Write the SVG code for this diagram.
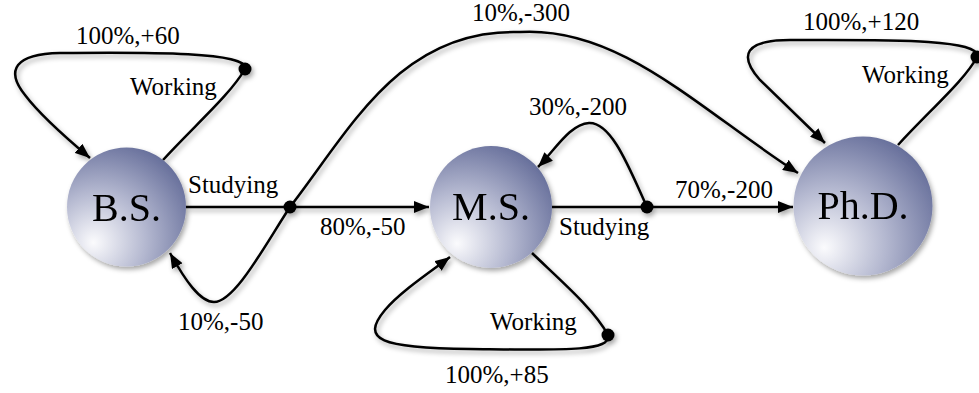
<svg xmlns="http://www.w3.org/2000/svg" width="979" height="393" viewBox="0 0 979 393">
<style>
.edge{fill:none;stroke:#000;stroke-width:2.5;}
.lbl{font-family:"Liberation Serif",serif;font-size:25px;fill:#000;}
.nlbl{font-family:"Liberation Serif",serif;font-size:40px;fill:#000;text-anchor:middle;}
.node{fill:url(#ball);}
.dot{fill:#000;}
</style>
<defs>
<radialGradient id="ball" cx="0.3" cy="0.75" r="0.9" fx="0.22" fy="0.8">
<stop offset="0" stop-color="#fbfbfd"/>
<stop offset="0.45" stop-color="#b4b8d0"/>
<stop offset="1" stop-color="#5a6392"/>
</radialGradient>
<filter id="sh" x="-20%" y="-20%" width="140%" height="140%">
<feDropShadow dx="2" dy="3" stdDeviation="2.5" flood-color="#000" flood-opacity="0.35"/>
</filter>
<marker id="arr" markerUnits="userSpaceOnUse" markerWidth="16" markerHeight="12" refX="15" refY="6" orient="auto">
<path d="M0,0 L15,6 L0,12 z" fill="#000"/>
</marker>
</defs>
<g id="connectors" filter="url(#sh)">
<path class="edge" d="M163,160 C195,125 230,95 245,69"/>
<path class="edge" marker-end="url(#arr)" d="M245,69 C250,52 150,52 60,53 C15,54 5,70 25,95 C40,115 65,137 90,158"/>
<path class="edge" d="M186,207 L290,207"/>
<path class="edge" marker-end="url(#arr)" d="M290,207 L429,207"/>
<path class="edge" marker-end="url(#arr)" d="M290,207 C265,245 235,302 214,302 C200,302 185,280 170,253"/>
<path class="edge" marker-end="url(#arr)" d="M290,207 C350,130 400,28 520,32 C620,26 700,110 798,173"/>
<path class="edge" d="M552,207 L647,207"/>
<path class="edge" marker-end="url(#arr)" d="M647,207 L793,207"/>
<path class="edge" marker-end="url(#arr)" d="M647,207 C630,170 612,122 589,123 C570,124 555,150 538,167"/>
<path class="edge" d="M532,253 C560,280 595,310 608,335"/>
<path class="edge" marker-end="url(#arr)" d="M608,335 C612,352 560,350 470,349 C380,348 360,340 385,310 C400,292 430,272 450,257"/>
<path class="edge" d="M898,145 C930,110 965,80 977,57"/>
<path class="edge" marker-end="url(#arr)" d="M977,57 C982,38 880,40 790,40 C745,40 738,55 760,80 L825,143"/>
<circle class="dot" cx="245" cy="69" r="6.5"/>
<circle class="dot" cx="290" cy="207" r="6.5"/>
<circle class="dot" cx="647" cy="207" r="6.5"/>
<circle class="dot" cx="608" cy="335" r="6.5"/>
<circle class="dot" cx="977" cy="57" r="6.5"/>
</g>
<g id="labels">
<text class="lbl" x="76" y="44">100%,+60</text>
<text class="lbl" x="130" y="95">Working</text>
<text class="lbl" x="188" y="193">Studying</text>
<text class="lbl" x="320" y="235">80%,-50</text>
<text class="lbl" x="178" y="330">10%,-50</text>
<text class="lbl" x="472" y="21">10%,-300</text>
<text class="lbl" x="529" y="115">30%,-200</text>
<text class="lbl" x="559" y="235">Studying</text>
<text class="lbl" x="490" y="330">Working</text>
<text class="lbl" x="445" y="383">100%,+85</text>
<text class="lbl" x="675" y="198">70%,-200</text>
<text class="lbl" x="803" y="30">100%,+120</text>
<text class="lbl" x="862" y="83">Working</text>
</g>
<g id="node-bs" filter="url(#sh)">
<circle class="node" cx="126.5" cy="207" r="59.5"/>
<text class="nlbl" x="126.5" y="221">B.S.</text>
</g>
<g id="node-ms" filter="url(#sh)">
<circle class="node" cx="491" cy="207" r="61"/>
<text class="nlbl" x="491" y="220">M.S.</text>
</g>
<g id="node-phd" filter="url(#sh)">
<circle class="node" cx="863" cy="206" r="69.5"/>
<text class="nlbl" x="863" y="219">Ph.D.</text>
</g>
</svg>
